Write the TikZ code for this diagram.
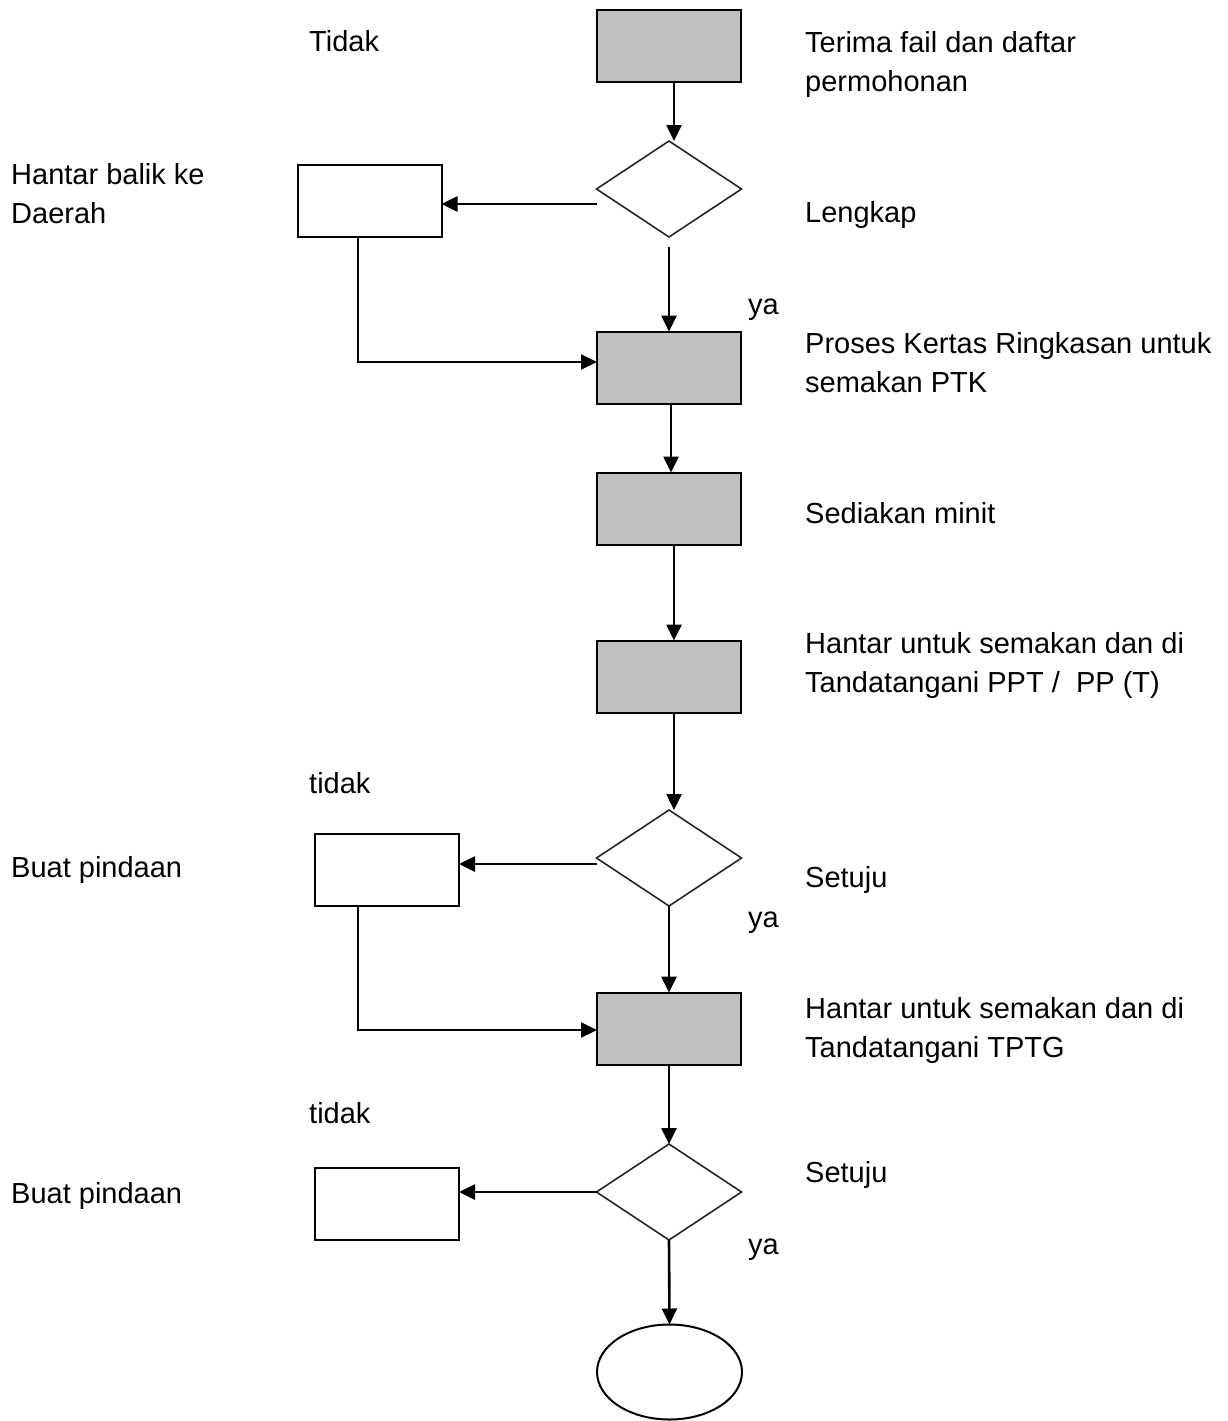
\documentclass[tikz,border=0pt]{standalone}
\usepackage{fontspec}
\setmainfont{Liberation Sans}
\usetikzlibrary{shapes.geometric,arrows.meta}
\begin{document}
\begin{tikzpicture}[x=1pt,y=-1pt,
  every node/.style={font=\fontsize{29}{39}\selectfont},
  procbox/.style={draw=black,line width=2pt,fill=procgray,minimum width=144pt,minimum height=72pt,inner sep=0pt,outer sep=0pt},
  sidebox/.style={draw=black,line width=2pt,fill=white,minimum width=144pt,minimum height=72pt,inner sep=0pt,outer sep=0pt},
  decision/.style={diamond,draw=black!85,line width=1.6pt,fill=white,minimum width=145pt,minimum height=96pt,inner sep=0pt,outer sep=0pt},
  endshape/.style={ellipse,draw=black,line width=2pt,minimum width=145pt,minimum height=95pt,inner sep=0pt,outer sep=0pt},
  lbl/.style={anchor=base west,inner sep=0pt,align=left},
  tip/.style={-{Triangle[length=16pt,width=15pt]}},
  arr/.style={line width=2.6pt,tip},
  ln/.style={line width=2pt,tip}]
\definecolor{procgray}{HTML}{C0C0C0}
\useasboundingbox (0,0) rectangle (1228,1421);

% main column
\node[procbox] (b1) at (669,46) {};
\node[decision] (d1) at (669,189) {};
\node[procbox] (b3) at (669,367.5) {};
\node[procbox] (b4) at (669,508.5) {};
\node[procbox] (b5) at (669,676.5) {};
\node[decision] (d2) at (669,858) {};
\node[procbox] (b6) at (669,1028.5) {};
\node[decision] (d3) at (669,1192) {};
\node[endshape] (e1) at (669.5,1372) {};

% side boxes
\node[sidebox] (s1) at (369.5,201) {};
\node[sidebox] (s2) at (387,869.5) {};
\node[sidebox] (s3) at (387,1204) {};

% connectors
\draw[arr] ([xshift=5pt]b1.south) -- ([xshift=5pt]b1.south |- d1.north);
\draw[arr] ([yshift=-15pt]d1.west) -- ([yshift=-15pt]d1.west -| s1.east);
\draw[arr] ([yshift=-10pt]d1.south) -- (b3.north);
\draw[ln] ([xshift=-11.5pt]s1.south) |- ([yshift=5.5pt]b3.west);
\draw[arr] ([xshift=2pt]b3.south) -- ([xshift=2pt]b4.north);
\draw[arr] ([xshift=5pt]b4.south) -- ([xshift=5pt]b5.north);
\draw[arr] ([xshift=5pt]b5.south) -- ([xshift=5pt]b5.south |- d2.north);
\draw[arr] ([yshift=-6pt]d2.west) -- ([yshift=-6pt]d2.west -| s2.east);
\draw[arr] (d2.south) -- (b6.north);
\draw[ln] ([xshift=-29pt]s2.south) |- ([yshift=-1.5pt]b6.west);
\draw[arr] (b6.south) -- (d3.north);
\draw[arr] (d3.west) -- (d3.west -| s3.east);
\draw[arr] (d3.south) -- (e1.north);

% labels (multi-line labels are placed by their last baseline)
\node[lbl] (t1) at (309,52) {Tidak};
\node[lbl] (t2) at (805,91) {Terima fail dan daftar\\permohonan};
\node[lbl] (t3) at (11,223) {Hantar balik ke\\Daerah};
\node[lbl] (t4) at (805,222) {Lengkap};
\node[lbl] (t5) at (748,314) {ya};
\node[lbl] (t6) at (805,392) {Proses Kertas Ringkasan untuk\\semakan PTK};
\node[lbl] (t7) at (805,523) {Sediakan minit};
\node[lbl] (t8) at (805,692) {Hantar untuk semakan dan di\\Tandatangani PPT /\ \ PP (T)};
\node[lbl] (t9) at (309,793) {tidak};
\node[lbl] (t10) at (11,877) {Buat pindaan};
\node[lbl] (t11) at (805,887) {Setuju};
\node[lbl] (t12) at (748,927) {ya};
\node[lbl] (t13) at (805,1057) {Hantar untuk semakan dan di\\Tandatangani TPTG};
\node[lbl] (t14) at (309,1123) {tidak};
\node[lbl] (t15) at (805,1182) {Setuju};
\node[lbl] (t16) at (11,1203) {Buat pindaan};
\node[lbl] (t17) at (748,1254) {ya};
\end{tikzpicture}
\end{document}
